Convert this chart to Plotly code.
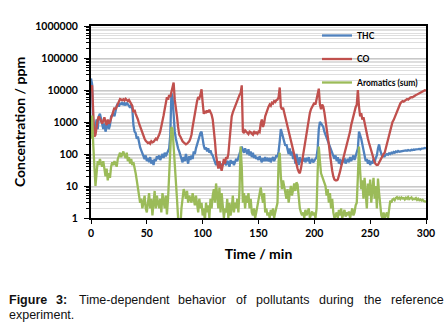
import plotly.graph_objects as go

# ---------------- data ----------------
time_min = list(range(0, 301))

thc_ppm = [
    23000, 15000, 500, 400, 700, 1200, 600, 1500, 1800, 1200,
    800, 600, 900, 500, 700, 1000, 600, 800, 1500, 1700,
    1800, 1500, 2500, 3200, 3800, 3000, 4000, 3500, 4200, 3400,
    3800, 3300, 4000, 3600, 3200, 2800, 3500, 2500, 800, 500,
    450, 300, 350, 200, 160, 130, 100, 80, 70, 90,
    60, 75, 55, 80, 50, 65, 45, 70, 60, 85,
    70, 90, 65, 80, 100, 75, 110, 85, 100, 130,
    150, 400, 8000, 6000, 1500, 500, 300, 200, 150, 120,
    90, 70, 55, 80, 60, 100, 70, 50, 85, 65,
    90, 70, 120, 100, 150, 200, 250, 300, 450, 500,
    250, 180, 140, 160, 120, 150, 110, 130, 100, 90,
    70, 55, 45, 60, 40, 55, 35, 50, 45, 60,
    50, 45, 60, 55, 40, 65, 50, 60, 45, 55,
    70, 60, 80, 100, 130, 170, 130, 110, 150, 120,
    100, 140, 90, 120, 80, 110, 75, 90, 70, 80,
    65, 85, 70, 55, 75, 60, 80, 65, 70, 60,
    75, 55, 70, 80, 60, 75, 90, 80, 120, 250,
    600, 450, 350, 250, 180, 200, 130, 100, 150, 90,
    120, 70, 90, 50, 100, 60, 45, 80, 55, 70,
    60, 75, 55, 70, 65, 80, 50, 60, 70, 55,
    60, 70, 80, 150, 600, 1000, 900, 800, 700, 500,
    400, 300, 250, 200, 150, 120, 100, 80, 70, 90,
    60, 80, 50, 70, 45, 65, 55, 75, 50, 60,
    70, 55, 80, 60, 75, 90, 65, 85, 100, 150,
    500, 400, 300, 200, 120, 80, 60, 70, 50, 65,
    45, 60, 50, 70, 55, 75, 90, 150, 200, 130,
    100, 80, 90, 85, 95, 100, 95, 105, 100, 110,
    105, 115, 110, 120, 115, 125, 118, 120, 125, 122,
    128, 125, 130, 127, 133, 130, 128, 135, 132, 138,
    135, 140, 138, 142, 145, 140, 148, 145, 150, 155,
    150,
]

co_ppm = [
    9000, 14000, 2000, 350, 400, 800, 1200, 1500, 1300, 1100,
    900, 1100, 1400, 1000, 800, 1200, 900, 1000, 1300, 1500,
    2200, 2800, 2500, 3000, 3500, 4500, 5200, 5000, 4800, 5100,
    4700, 5300, 4800, 4500, 4900, 4200, 4000, 3200, 2000, 2400,
    1800, 1500, 1200, 900, 700, 550, 420, 350, 300, 260,
    240, 220, 230, 210, 250, 230, 240, 260, 300, 280,
    320, 400, 500, 700, 1000, 1600, 2500, 4000, 6000, 5000,
    7000, 6000, 8000, 12000, 17000, 5000, 3000, 1500, 700, 400,
    350, 280, 250, 230, 220, 200, 210, 230, 250, 300,
    400, 700, 1200, 2000, 3000, 4500, 6000, 5500, 7000, 10500,
    4000, 1800, 2200, 1900, 2300, 2000, 2400, 2100, 1700, 1200,
    600, 250, 90, 50, 35, 60, 40, 30, 45, 70,
    50, 80, 70, 100, 250, 700, 1500, 2000, 2500, 3000,
    4000, 5000, 6000, 7000, 8000, 14000, 500, 450, 550, 500,
    450, 420, 500, 480, 430, 400, 520, 450, 470, 430,
    500, 480, 900, 1200, 700, 900, 1500, 2000, 2500, 3000,
    3500, 3200, 4000, 3800, 4500, 4200, 4800, 5000, 6000, 12000,
    3000, 2500, 2800, 2000, 1500, 1000, 700, 500, 350, 250,
    180, 120, 90, 60, 45, 35, 28, 25, 35, 60,
    100, 150, 250, 450, 700, 1200, 1900, 2500, 3000, 3500,
    4000, 3500, 5000, 8000, 11000, 3500, 2500, 3500, 3000, 2000,
    1200, 700, 400, 200, 100, 50, 30, 20, 16, 15,
    15, 16, 20, 28, 40, 55, 70, 90, 130, 180,
    250, 340, 500, 800, 1150, 1500, 2000, 2900, 3500, 10000,
    3000, 1500, 1900, 1200, 1400, 900, 600, 400, 300, 220,
    160, 120, 90, 70, 55, 48, 45, 46, 55, 65,
    75, 90, 100, 110, 150, 220, 300, 450, 600, 800,
    1000, 1150, 1400, 1800, 2400, 2900, 3200, 3800, 4200, 4500,
    4300, 4700, 5000, 5200, 5000, 5600, 5800, 6000, 5900, 6300,
    6800, 7000, 7200, 7500, 7800, 8200, 8500, 9000, 9500, 9800,
    9500,
]

aromatics_ppm = [
    300, 1600, 200, 40, 10, 25, 60, 45, 70, 50,
    40, 60, 30, 20, 35, 15, 25, 18, 40, 55,
    45, 60, 50, 40, 70, 90, 110, 80, 100, 120,
    90, 75, 110, 60, 80, 50, 70, 45, 55, 40,
    25, 15, 8, 5, 3, 4, 2, 3, 5, 2,
    1.5, 3, 6, 2, 4, 1.2, 3, 7, 2, 5,
    3, 2, 4, 1.5, 6, 3, 2, 5, 1.3, 4,
    30, 300, 700, 600, 200, 50, 15, 4, 1, 0.5,
    0.5, 2, 5, 8, 6, 4, 7, 3, 5, 4,
    3, 6, 4, 2.5, 5, 3, 1.5, 4, 2, 3,
    1.2, 2, 0.8, 3, 1.5, 2.5, 1, 4, 2, 5,
    8, 3, 12, 5, 2, 9, 1.5, 6, 3, 1,
    2, 1.5, 4, 1, 3, 1.2, 2, 5, 1.5, 3,
    2, 4, 1.5, 8, 170, 40, 3, 6, 2, 5,
    3, 6, 2, 4, 1.5, 1.2, 2, 1, 1.5, 2.5,
    4, 7, 9, 5, 3, 6, 1.5, 2, 1.2, 1.5,
    1, 1.8, 1.2, 2, 1, 1.5, 2.2, 3, 60, 110,
    20, 8, 15, 10, 6, 4, 8, 3, 6, 10,
    5, 9, 12, 7, 13, 11, 4, 2, 1.5, 1.2,
    1.5, 1, 1.8, 1.2, 1.5, 2, 1, 1.3, 1.6, 1.2,
    1.5, 1, 2, 30, 170, 60, 25, 20, 15, 12,
    10, 5, 8, 3, 6, 2, 4, 1.5, 1, 1.2,
    1.5, 1, 1.8, 1.2, 2, 1, 1.3, 1.8, 1.1, 1.5,
    1.2, 1.6, 1, 1.4, 2, 1.2, 1.5, 2.5, 3, 20,
    170, 30, 8, 15, 4, 18, 6, 2, 12, 5,
    16, 3, 8, 18, 4, 10, 2, 17, 6, 3,
    1.2, 1, 1.5, 1, 1.2, 1.5, 1, 2.5, 3.5, 3,
    3.8, 4, 3.6, 4.2, 4.5, 4, 4.3, 3.9, 4.4, 4.1,
    4.2, 3.8, 4.3, 4, 4.5, 3.9, 4.1, 4.4, 3.8, 4,
    3.9, 4.2, 3.7, 4, 3.6, 3.8, 3.5, 3.7, 3.4, 3.3,
    3.2,
]

series_names = ["THC", "CO", "Aromatics (sum)"]
series_colors = ["#4F81BD", "#C0504D", "#9BBB59"]

y_tick_values = [1, 10, 100, 1000, 10000, 100000, 1000000]
y_tick_labels = ["1", "10", "100", "1000", "10000", "100000", "1000000"]
x_tick_values = [0, 50, 100, 150, 200, 250, 300]
x_tick_labels = ["0", "50", "100", "150", "200", "250", "300"]

x_title = "Time / min"
y_title = "Concentration / ppm"

caption_line1_words = ["Figure", "3:", "Time-dependent", "behavior", "of",
                       "pollutants", "during", "the", "reference"]
caption_line1_left_px = [8, 55, 78, 177, 235, 255, 318, 363, 390]
caption_line1_bold = [True, True, False, False, False, False, False, False, False]
caption_line2 = "experiment."

# ---------------- layout geometry ----------------
W, H = 447, 329
ML, MR, MT, MB = 91, 21, 26, 111
PW, PH = W - ML - MR, H - MT - MB


def px_to_paper_x(px):
    return (px - ML) / PW


def px_to_paper_y(py):
    return (H - MB - py) / PH


TICK_FONT = dict(family="Lato", size=10.5, color="#000000", weight="bold")
CAPTION_FONT = dict(family="Liberation Sans, Arial", size=12.5, color="#111111")

fig = go.Figure()
for name, color, values in zip(series_names, series_colors,
                               [thc_ppm, co_ppm, aromatics_ppm]):
    fig.add_trace(go.Scatter(
        x=time_min, y=values, mode="lines", name=name,
        legendgroup=name,
        line=dict(color=color, width=2.3),
    ))

annotations = []
for word, left, bold in zip(caption_line1_words, caption_line1_left_px, caption_line1_bold):
    annotations.append(dict(
        text=f"<b>{word}</b>" if bold else word,
        x=px_to_paper_x(left), y=px_to_paper_y(300),
        xref="paper", yref="paper", xanchor="left", yanchor="middle",
        showarrow=False, borderpad=0,
        font=CAPTION_FONT,
    ))
annotations.append(dict(
    text=caption_line2,
    x=px_to_paper_x(8), y=px_to_paper_y(315),
    xref="paper", yref="paper", xanchor="left", yanchor="middle",
    showarrow=False, borderpad=0,
    font=CAPTION_FONT,
))

fig.update_layout(
    width=W, height=H,
    margin=dict(l=ML, r=MR, t=MT, b=MB, pad=0, autoexpand=False),
    paper_bgcolor="white", plot_bgcolor="white",
    showlegend=True,
    legend=dict(
        x=px_to_paper_x(317), y=px_to_paper_y(21), xanchor="left", yanchor="top",
        bgcolor="rgba(0,0,0,0)", borderwidth=0,
        font=dict(family="Lato", size=8.5, color="#000000", weight="bold"),
        tracegroupgap=4.5,
    ),
    annotations=annotations,
    xaxis=dict(
        range=[0, 300],
        tickmode="array", tickvals=x_tick_values, ticktext=x_tick_labels,
        ticks="outside", ticklen=4, tickwidth=1, tickcolor="#000000",
        showline=True, linecolor="#000000", linewidth=2, mirror=True,
        showgrid=False, zeroline=False,
        tickfont=TICK_FONT,
        title=dict(text=x_title, font=dict(family="Lato", size=14, color="#000000", weight="bold"),
                   standoff=12),
    ),
    yaxis=dict(
        type="log", range=[0, 6],
        tickmode="array", tickvals=y_tick_values, ticktext=y_tick_labels,
        ticks="outside", ticklen=5, tickwidth=1, tickcolor="#000000",
        ticklabelstandoff=4,
        showline=True, linecolor="#000000", linewidth=2, mirror=True,
        showgrid=True, gridcolor="#c8c8c8", gridwidth=1,
        zeroline=False,
        minor=dict(dtick="D1", showgrid=True, gridcolor="#dedede", gridwidth=1,
                   ticks="outside", ticklen=3, tickcolor="#000000"),
        tickfont=TICK_FONT,
        title=dict(text=y_title, font=dict(family="Lato", size=14, color="#000000", weight="bold"),
                   standoff=6),
    ),
)

fig.write_html("out.html", config={"displayModeBar": False},
               post_script="document.body.style.margin='0px';")
